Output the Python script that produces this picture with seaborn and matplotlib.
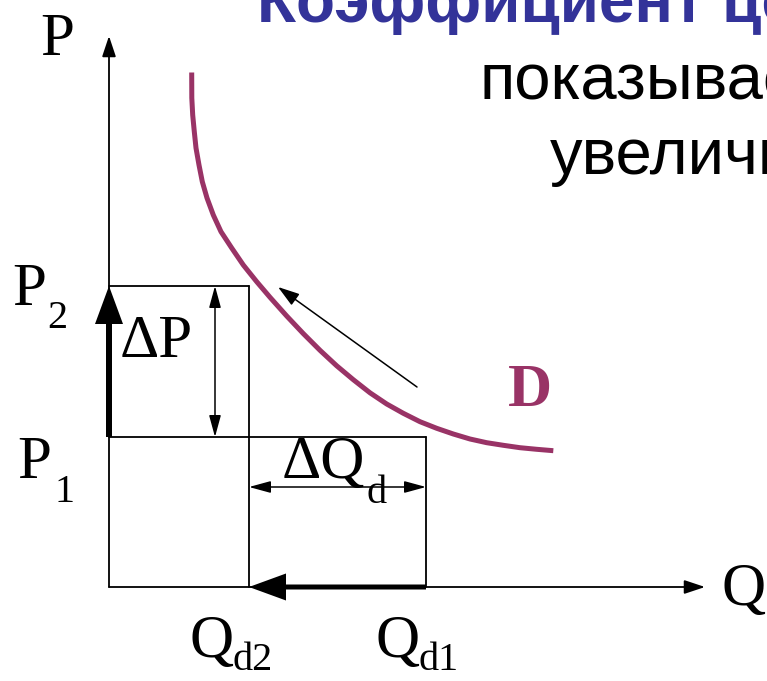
import matplotlib
matplotlib.use("Agg")
import matplotlib.pyplot as plt
import seaborn as sns
import pandas as pd

# ---- data (units: diagram units, origin at the axes corner) ----
demand_q = [82.7, 82.8, 83.7, 85.3, 87, 90, 93.3, 98, 104.3, 112, 122.7, 134.3, 147.7, 161,
            177.7, 194.3, 211, 227.7, 244.3, 261, 277.7, 294.3, 311, 327.7, 344.3, 361,
            377.7, 394.3, 411, 427.7, 444.3]
demand_p = [514.5, 489, 472, 455.3, 439, 422, 405.3, 389, 372, 355.3, 339, 322, 305.3, 289.7,
            271, 253.4, 236.7, 221.2, 207.3, 194.2, 183, 173.7, 165.3, 158.7, 153, 148,
            144.3, 141.7, 139.3, 137.7, 136.3]
q_levels = [140, 317]          # Qd2, Qd1
p_levels = [150, 301]          # P1, P2
axis_max = [596, 551]          # Q axis end, P axis end
move_arrow = [(308, 200), (169, 300)]   # tail, tip (movement along D)
title_text = "Коэффициент це"
body_lines = ["показывае", "увеличи"]

sns.set_theme(style="white")
plt.rcParams["font.family"] = ["Liberation Serif", "DejaVu Serif"]
plt.rcParams["text.color"] = "black"

fig = plt.figure(figsize=(7.67, 6.81), dpi=100)
ax = fig.add_axes([0, 0, 1, 1])

qd2, qd1 = q_levels
p1, p2 = p_levels
lw = 1.3
blk = "black"

# demand curve
df = pd.DataFrame({"Q": demand_q, "P": demand_p})
sns.lineplot(data=df, x="Q", y="P", sort=False, estimator=None, color="#993366", lw=3.6,
             ax=ax, solid_capstyle="butt", solid_joinstyle="round")
ax.set_xlim(-109, 658)
ax.set_ylim(-94, 587)
ax.set_aspect("equal", adjustable="box")
ax.axis("off")

# axes with arrow heads
ax.annotate("", xy=(0, axis_max[1]), xytext=(0, 0),
            arrowprops=dict(arrowstyle="-|>,head_length=0.9,head_width=0.3", lw=lw, color=blk,
                            shrinkA=0, shrinkB=0, mutation_scale=14))
ax.annotate("", xy=(axis_max[0], 0), xytext=(0, 0),
            arrowprops=dict(arrowstyle="-|>,head_length=0.9,head_width=0.3", lw=lw, color=blk,
                            shrinkA=0, shrinkB=0, mutation_scale=14))

# rectangles
ax.plot([0, qd2], [p2, p2], color=blk, lw=lw)
ax.plot([qd2, qd2], [p2, 0], color=blk, lw=lw)
ax.plot([0, qd1], [p1, p1], color=blk, lw=lw)
ax.plot([qd1, qd1], [p1, 0], color=blk, lw=lw)

# thick arrows
ax.arrow(0, p1, 0, p2 - p1, width=6, head_width=28, head_length=38,
         length_includes_head=True, color=blk, lw=0)
ax.arrow(qd1, 0, qd2 - qd1, 0, width=5, head_width=27, head_length=37,
         length_includes_head=True, color=blk, lw=0)

# double arrows
ax.annotate("", xy=(106, p2), xytext=(106, p1),
            arrowprops=dict(arrowstyle="<|-|>,head_length=1.1,head_width=0.3", lw=1.1, color=blk,
                            shrinkA=0, shrinkB=0, mutation_scale=12))
ax.annotate("", xy=(qd1, 100), xytext=(qd2, 100),
            arrowprops=dict(arrowstyle="<|-|>,head_length=1.1,head_width=0.3", lw=1.1, color=blk,
                            shrinkA=0, shrinkB=0, mutation_scale=12))
# movement along curve
ax.annotate("", xy=move_arrow[1], xytext=move_arrow[0],
            arrowprops=dict(arrowstyle="-|>,head_length=1.1,head_width=0.35", lw=1.1, color=blk,
                            shrinkA=0, shrinkB=0, mutation_scale=12))

# labels
big = 44
sub = 29
def t(x, y, s, size, **kw):
    kw.setdefault("color", "black")
    ax.text(x, y, s, fontsize=size, ha="left", va="baseline", **kw)

t(-69, 532, "P", big)
t(-97, 282, "P", big); t(-62, 259, "2", sub)
t(-92, 109, "P", big); t(-54, 85, "1", sub)
t(11, 230, "ΔP", big)
t(173, 109, "ΔQ", big); t(258, 84, "d", sub)
t(81, -70, "Q", big); t(124, -83, "d2", sub)
t(266, -70, "Q", big); t(309, -83, "d1", sub)
t(613, -18, "Q", big)
t(399, 181, "D", big, color="#993366", fontweight="bold")

# slide text
sans = ["Liberation Sans", "DejaVu Sans"]
ax.text(148, 565, title_text, fontsize=46, fontweight="bold", color="#333399",
        family=sans, ha="left", va="baseline")
ax.text(371, 487, body_lines[0], fontsize=47, color="black", family=sans,
        ha="left", va="baseline")
ax.text(441, 413, body_lines[1], fontsize=47, color="black", family=sans,
        ha="left", va="baseline")

fig.savefig("out.png", dpi=100)
